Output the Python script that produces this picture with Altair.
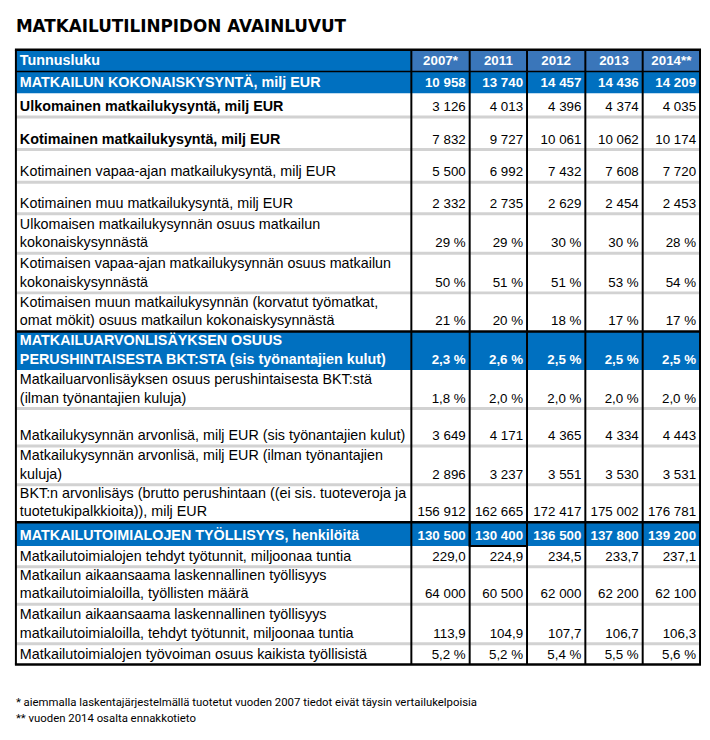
import altair as alt
import pandas as pd

# ---------------- data ----------------
title = "MATKAILUTILINPIDON AVAINLUVUT"
header_label = "Tunnusluku"
years = ["2007*", "2011", "2012", "2013", "2014**"]

labels = [
    "MATKAILUN KOKONAISKYSYNTÄ, milj EUR",
    "Ulkomainen matkailukysyntä, milj EUR",
    "Kotimainen matkailukysyntä, milj EUR",
    "Kotimainen vapaa-ajan matkailukysyntä, milj EUR",
    "Kotimainen muu matkailukysyntä, milj EUR",
    "Ulkomaisen matkailukysynnän osuus matkailun\nkokonaiskysynnästä",
    "Kotimaisen vapaa-ajan matkailukysynnän osuus matkailun\nkokonaiskysynnästä",
    "Kotimaisen muun matkailukysynnän (korvatut työmatkat,\nomat mökit) osuus matkailun kokonaiskysynnästä",
    "MATKAILUARVONLISÄYKSEN OSUUS\nPERUSHINTAISESTA BKT:STA (sis työnantajien kulut)",
    "Matkailuarvonlisäyksen osuus perushintaisesta BKT:stä\n(ilman työnantajien kuluja)",
    "Matkailukysynnän arvonlisä, milj EUR (sis työnantajien kulut)",
    "Matkailukysynnän arvonlisä, milj EUR (ilman työnantajien\nkuluja)",
    "BKT:n arvonlisäys (brutto perushintaan ((ei sis. tuoteveroja ja\ntuotetukipalkkioita)), milj EUR",
    "MATKAILUTOIMIALOJEN TYÖLLISYYS, henkilöitä",
    "Matkailutoimialojen tehdyt työtunnit, miljoonaa tuntia",
    "Matkailun aikaansaama laskennallinen työllisyys\nmatkailutoimialoilla, työllisten määrä",
    "Matkailun aikaansaama laskennallinen työllisyys\nmatkailutoimialoilla, tehdyt työtunnit, miljoonaa tuntia",
    "Matkailutoimialojen työvoiman osuus kaikista työllisistä",
]
kinds = ["blue", "bold", "bold", "normal", "normal", "normal", "normal", "normal",
         "blue", "normal", "normal", "normal", "normal",
         "blue", "normal", "normal", "normal", "normal"]
formats = ["int", "int", "int", "int", "int", "pct0", "pct0", "pct0",
           "pct1", "pct1", "int", "int", "int",
           "int", "dec1", "int", "dec1", "pct1"]
values = [
    [10958, 13740, 14457, 14436, 14209],
    [3126, 4013, 4396, 4374, 4035],
    [7832, 9727, 10061, 10062, 10174],
    [5500, 6992, 7432, 7608, 7720],
    [2332, 2735, 2629, 2454, 2453],
    [29, 29, 30, 30, 28],
    [50, 51, 51, 53, 54],
    [21, 20, 18, 17, 17],
    [2.3, 2.6, 2.5, 2.5, 2.5],
    [1.8, 2.0, 2.0, 2.0, 2.0],
    [3649, 4171, 4365, 4334, 4443],
    [2896, 3237, 3551, 3530, 3531],
    [156912, 162665, 172417, 175002, 176781],
    [130500, 130400, 136500, 137800, 139200],
    [229.0, 224.9, 234.5, 233.7, 237.1],
    [64000, 60500, 62000, 62200, 62100],
    [113.9, 104.9, 107.7, 106.7, 106.3],
    [5.2, 5.2, 5.4, 5.5, 5.6],
]
footnotes = [
    "* aiemmalla laskentajärjestelmällä tuotetut vuoden 2007 tiedot eivät täysin vertailukelpoisia",
    "** vuoden 2014 osalta ennakkotieto",
]

# ---------------- layout / style ----------------
W, H = 702, 720
col_edges = [8, 408, 467, 525, 584, 642, 700]
table_top = 38
row_heights = [22, 22, 24, 33, 33, 32, 40, 40, 39, 39, 39, 38, 39, 38, 24, 21, 38, 40, 21]
LINE_H = 19
BLUE = "#0070C0"
YEAR_BLUE = "#3A76BA"
GRAY = "#D2D2D2"
FONT = "Liberation Sans"
FS_LABEL = 14.5
FS_VALUE = 13.5


def fmt(v, kind):
    if kind == "int":
        return f"{int(round(v)):,}".replace(",", " ")
    if kind == "pct0":
        return f"{v:.0f} %"
    if kind == "pct1":
        return f"{v:.1f}".replace(".", ",") + " %"
    return f"{v:.1f}".replace(".", ",")


all_kinds = ["head"] + kinds
bounds = [table_top]
for h in row_heights:
    bounds.append(bounds[-1] + h)
left, right = col_edges[0], col_edges[-1]

# backgrounds
bg = []
bg.append(dict(x=left, x2=col_edges[1], y=bounds[0], y2=bounds[1], c=BLUE))
for j in range(5):
    bg.append(dict(x=col_edges[j + 1], x2=col_edges[j + 2], y=bounds[0], y2=bounds[1], c=YEAR_BLUE))
for i, k in enumerate(all_kinds):
    if k == "blue":
        bg.append(dict(x=left, x2=right, y=bounds[i], y2=bounds[i + 1], c=BLUE))
bg_df = pd.DataFrame(bg)

# gray separators between white rows
gray = []
for i in range(1, len(all_kinds)):
    if all_kinds[i - 1] in ("bold", "normal") and all_kinds[i] in ("bold", "normal"):
        gray.append(dict(x=left, x2=right, y=bounds[i] - 1.5, y2=bounds[i] + 1.5))
gray_df = pd.DataFrame(gray)

# black horizontal lines
hl = [dict(x=left - 1, x2=right + 1, y=bounds[0], w=2.5),
      dict(x=left - 1, x2=right + 1, y=bounds[-1], w=2.5),
      dict(x=left, x2=right, y=bounds[1], w=1.5)]
for i in range(2, len(all_kinds)):
    if all_kinds[i] == "blue" and all_kinds[i - 1] not in ("blue", "head"):
        hl.append(dict(x=left, x2=right, y=bounds[i], w=2.5))
hl_df = pd.DataFrame(hl)

# vertical lines
vl_df = pd.DataFrame([dict(x=e, y=bounds[0], y2=bounds[-1]) for e in col_edges])

# selected cell outline (2011, employment row)
sel_row = 1 + labels.index("MATKAILUTOIMIALOJEN TYÖLLISYYS, henkilöitä")
sel_df = pd.DataFrame([dict(x=col_edges[2], x2=col_edges[3], y=bounds[sel_row], y2=bounds[sel_row + 1])])

# label text lines
lab = []
lab.append(dict(x=left + 4, y=bounds[1] - 6, t=header_label, c="white", b=True))
for r, (txt, k) in enumerate(zip(labels, kinds)):
    i = r + 1
    lines = txt.split("\n")
    n = len(lines)
    for li, line in enumerate(lines):
        lab.append(dict(x=left + 4, y=bounds[i + 1] - 6 - (n - 1 - li) * LINE_H, t=line,
                        c="white" if k == "blue" else "black", b=k in ("blue", "bold")))
lab_df = pd.DataFrame(lab)

# value text
val = []
for r, (vals, k, f) in enumerate(zip(values, kinds, formats)):
    i = r + 1
    for j, v in enumerate(vals):
        val.append(dict(x=col_edges[j + 2] - 4, y=bounds[i + 1] - 6, t=fmt(v, f),
                        c="white" if k == "blue" else "black", b=k == "blue"))
val_df = pd.DataFrame(val)

yr_df = pd.DataFrame([dict(x=(col_edges[j + 1] + col_edges[j + 2]) / 2, y=bounds[1] - 6, t=y)
                      for j, y in enumerate(years)])

title_df = pd.DataFrame([dict(x=8, y=20, t=title)])
foot_df = pd.DataFrame([dict(x=8, y=702 + 16 * i, t=t) for i, t in enumerate(footnotes)])

xs = alt.Scale(domain=[0, W], nice=False, zero=False)
ys = alt.Scale(domain=[0, H], nice=False, zero=False, reverse=True)
X = lambda f="x": alt.X(f"{f}:Q", scale=xs, axis=None)
Y = lambda f="y": alt.Y(f"{f}:Q", scale=ys, axis=None)

bg_layer = alt.Chart(bg_df).mark_rect().encode(
    x=X(), x2="x2:Q", y=Y(), y2="y2:Q", color=alt.Color("c:N", scale=None))
gray_layer = alt.Chart(gray_df).mark_rect(color=GRAY).encode(
    x=X(), x2="x2:Q", y=Y(), y2="y2:Q")
hl_layer = alt.Chart(hl_df).mark_rule(color="black").encode(
    x=X(), x2="x2:Q", y=Y(), strokeWidth=alt.StrokeWidth("w:Q", scale=None))
vl_layer = alt.Chart(vl_df).mark_rule(color="black", strokeWidth=2).encode(
    x=X(), y=Y(), y2="y2:Q")
sel_layer = alt.Chart(sel_df).mark_rect(fill=None, stroke="black", strokeWidth=2).encode(
    x=X(), x2="x2:Q", y=Y(), y2="y2:Q")


def text_layer(df, align, bold, size, font=FONT, color=None):
    kw = dict(align=align, baseline="alphabetic", font=font, fontSize=size,
              fontWeight="bold" if bold else "normal")
    enc = dict(x=X(), y=Y(), text="t:N")
    if color is None:
        enc["color"] = alt.Color("c:N", scale=None)
    else:
        kw["color"] = color
    return alt.Chart(df).mark_text(**kw).encode(**enc)


layers = [bg_layer, gray_layer, vl_layer, hl_layer, sel_layer,
          text_layer(lab_df[lab_df.b], "left", True, FS_LABEL),
          text_layer(lab_df[~lab_df.b], "left", False, FS_LABEL),
          text_layer(val_df[val_df.b], "right", True, FS_VALUE),
          text_layer(val_df[~val_df.b], "right", False, FS_VALUE),
          text_layer(yr_df, "center", True, FS_VALUE, color="white"),
          text_layer(title_df, "left", True, 17, font="DejaVu Sans", color="black"),
          text_layer(foot_df, "left", False, 11.5, font="Liberation Sans Narrow, Roboto, sans-serif",
                     color="black")]

chart = alt.layer(*layers).properties(
    width=W, height=H, padding=0, autosize=alt.AutoSizeParams(type="none")
).configure_view(stroke=None)

chart.save("out.html", embed_options={"renderer": "svg", "actions": False})
